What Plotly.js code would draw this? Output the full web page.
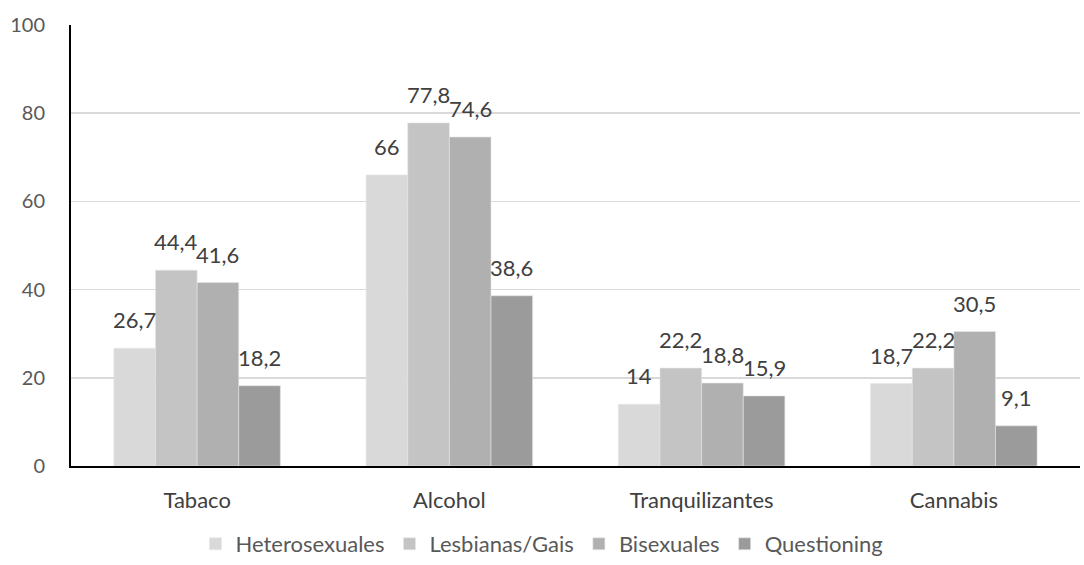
<!DOCTYPE html>
<html><head><meta charset="utf-8">
<script src="https://cdn.plot.ly/plotly-3.0.1.min.js"></script>
<style>html,body{margin:0;padding:0;background:#fff}#c{width:1084px;height:565px}</style>
</head><body><div id="c"></div>
<script>
const categories = ["Tabaco", "Alcohol", "Tranquilizantes", "Cannabis"];
const seriesNames = ["Heterosexuales", "Lesbianas/Gais", "Bisexuales", "Questioning"];
const heterosexuales = [26.7, 66, 14, 18.7];
const lesbianasGais = [44.4, 77.8, 22.2, 22.2];
const bisexuales = [41.6, 74.6, 18.8, 30.5];
const questioning = [18.2, 38.6, 15.9, 9.1];
const colors = ["#d9d9d9", "#c4c4c4", "#b0b0b0", "#9b9b9b"];
const allValues = [heterosexuales, lesbianasGais, bisexuales, questioning];
const fmt = v => String(v).replace('.', ',');
const font = "Lato, 'Open Sans', sans-serif";
const ml = 71, mr = 4;
const plotW = 1084 - ml - mr;
const bargap = 0.34;
const barW = plotW / categories.length * (1 - bargap) / allValues.length;
const traces = allValues.map((vals, i) => ({
  type: 'bar', name: seriesNames[i], x: categories, y: vals,
  marker: {color: colors[i], line: {color: '#e6e6e6', width: 0.6}},
  hoverinfo: 'x+y'
}));
const annotations = [];
allValues.forEach((vals, i) => {
  vals.forEach((v, j) => {
    annotations.push({
      xref: 'x', yref: 'y', x: categories[j], y: v,
      text: fmt(v), showarrow: false, yanchor: 'bottom', xanchor: 'center',
      xshift: (i - (allValues.length - 1) / 2) * barW, yshift: 13,
      font: {family: font, size: 22, color: '#404040'}
    });
  });
});
const layout = {
  width: 1084, height: 565,
  margin: {l: ml, r: mr, t: 25, b: 99},
  paper_bgcolor: '#fff', plot_bgcolor: '#fff',
  barmode: 'group', bargap: bargap, bargroupgap: 0,
  font: {family: font, size: 16, color: '#595959'},
  xaxis: {showline: true, linecolor: '#000', linewidth: 2, ticks: '', ticklabelstandoff: 14,
          automargin: false, tickfont: {family: font, size: 22, color: '#404040'}},
  yaxis: {range: [0, 100], dtick: 20, showline: true, linecolor: '#000', linewidth: 2,
          gridcolor: '#d9d9d9', gridwidth: 1.5, zeroline: false, ticks: '', ticklabelstandoff: 20,
          automargin: false, tickfont: {family: font, size: 20, color: '#595959'}},
  legend: {orientation: 'h', x: 0.5, xanchor: 'center', xref: 'container', yref: 'container',
           y: -0.011, yanchor: 'bottom',
           font: {family: font, size: 22, color: '#595959'}, itemwidth: 30, traceorder: 'normal'},
  annotations: annotations,
  showlegend: true
};
Plotly.newPlot('c', traces, layout, {displayModeBar: false, staticPlot: true});
</script></body></html>
